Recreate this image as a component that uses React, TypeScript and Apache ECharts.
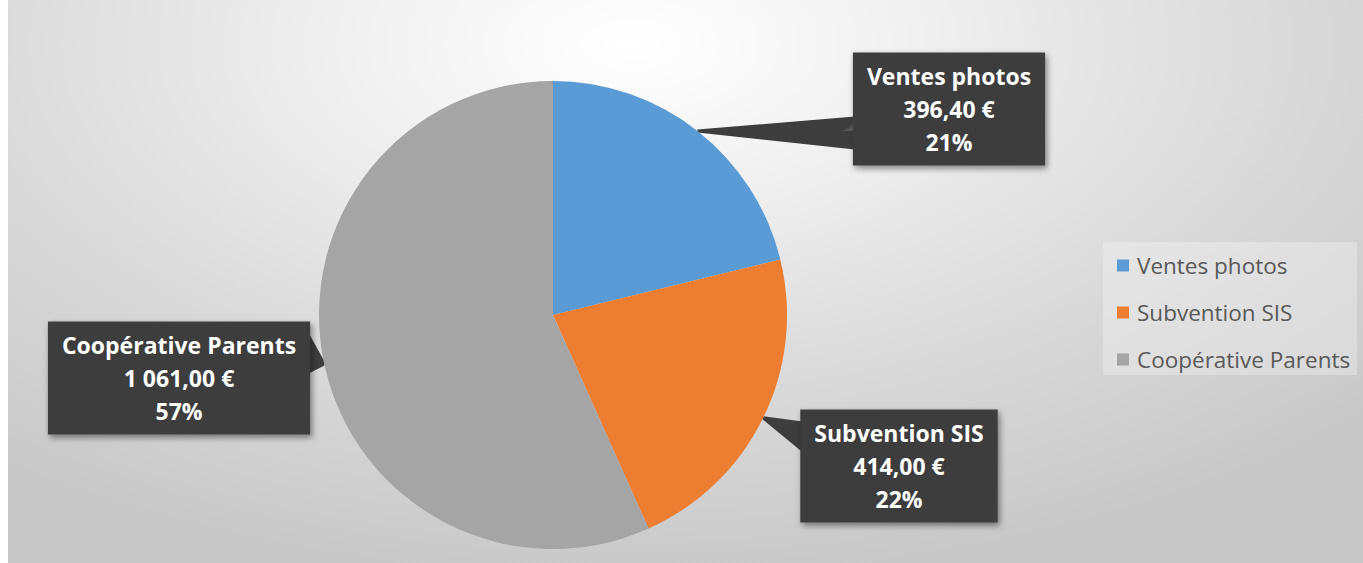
import React, { useEffect, useRef } from "react";
import * as echarts from "echarts";

const categories = ["Ventes photos", "Subvention SIS", "Coopérative Parents"];
const amounts = [396.4, 414.0, 1061.0];
const colors = ["#5B9BD5", "#ED7D31", "#A5A5A5"];

const fmtEuro = (v: number) => {
  const [i, f] = v.toFixed(2).split(".");
  return i.replace(/\B(?=(\d{3})+(?!\d))/g, " ") + "," + f + " €";
};

// label box centres (px, within chart div)
const labelCentres = [
  [941, 109],
  [891, 466],
  [171, 378],
];
// callout wedge base: side of the box, and fraction of the box height
const wedgeBase: [string, number, number][] = [
  ["left", 0.58, 0.85],
  ["left", 0.12, 0.36],
  ["right", 0.12, 0.45],
];

export default function App() {
  const ref = useRef<HTMLDivElement>(null);
  useEffect(() => {
    if (!ref.current) return;
    const chart = echarts.init(ref.current, null, { renderer: "svg" });
    chart.setOption({
      animation: false,
      color: colors,
      legend: {
        orient: "vertical",
        left: 1095,
        top: 242,
        padding: [12, 7, 4, 14],
        backgroundColor: "rgba(255,255,255,0.28)",
        icon: "rect",
        itemWidth: 12,
        itemHeight: 12,
        itemGap: 24,
        data: categories,
        textStyle: {
          fontFamily: "Open Sans",
          fontSize: 22.5,
          color: "#595959",
          padding: [0, 0, 0, 3],
        },
      },
      series: [
        {
          type: "pie",
          center: [545, 315],
          radius: 234,
          startAngle: 90,
          clockwise: true,
          silent: true,
          data: categories.map((name, i) => ({ name, value: amounts[i] })),
          label: {
            show: true,
            position: "outside",
            formatter: (p: any) =>
              `${p.name}\n${fmtEuro(p.value)}\n${Math.round(p.percent)}%`,
            color: "#ffffff",
            fontFamily: "Open Sans",
            fontWeight: "bold",
            fontSize: 23,
            lineHeight: 33,
            align: "center",
            backgroundColor: "#3d3d3d",
            padding: [7, 14, 7, 14],
            shadowBlur: 6,
            shadowColor: "rgba(0,0,0,0.45)",
            shadowOffsetX: 2,
            shadowOffsetY: 3,
          },
          labelLine: {
            show: true,
            length: 10,
            length2: 10,
            lineStyle: { color: "#3d3d3d", width: 3, cap: "butt", join: "bevel" },
          },
          labelLayout: (params: any) => {
            const i = params.dataIndex;
            const c = labelCentres[i];
            const r = params.labelRect;
            const w = r.width;
            const h = r.height;
            const left = c[0] - w / 2;
            const top = c[1] - h / 2;
            const tip = params.labelLinePoints
              ? params.labelLinePoints[0]
              : [c[0], c[1]];
            const [side, f0, f1] = wedgeBase[i];
            const bx = side === "left" ? left + 2 : left + w - 2;
            const pts: number[][] = [];
            const y0 = top + h * f0;
            const y1 = top + h * f1;
            for (let y = y0; y <= y1 + 0.01; y += 1) {
              pts.push([tip[0], tip[1]]);
              pts.push([bx, y]);
            }
            pts.push([tip[0], tip[1]]);
            return {
              x: c[0],
              y: c[1],
              align: "center",
              verticalAlign: "middle",
              labelLinePoints: pts,
            };
          },
        },
      ],
    });
    return () => chart.dispose();
  }, []);
  return (
    <div
      ref={ref}
      style={{
        position: "absolute",
        left: 8,
        top: 0,
        width: 1355,
        height: 563,
        background:
          "radial-gradient(ellipse 75% 95% at 46% 8%, #ffffff 0%, #f2f2f2 25%, #dcdcdc 60%, #c8c8c8 100%)",
      }}
    />
  );
}
